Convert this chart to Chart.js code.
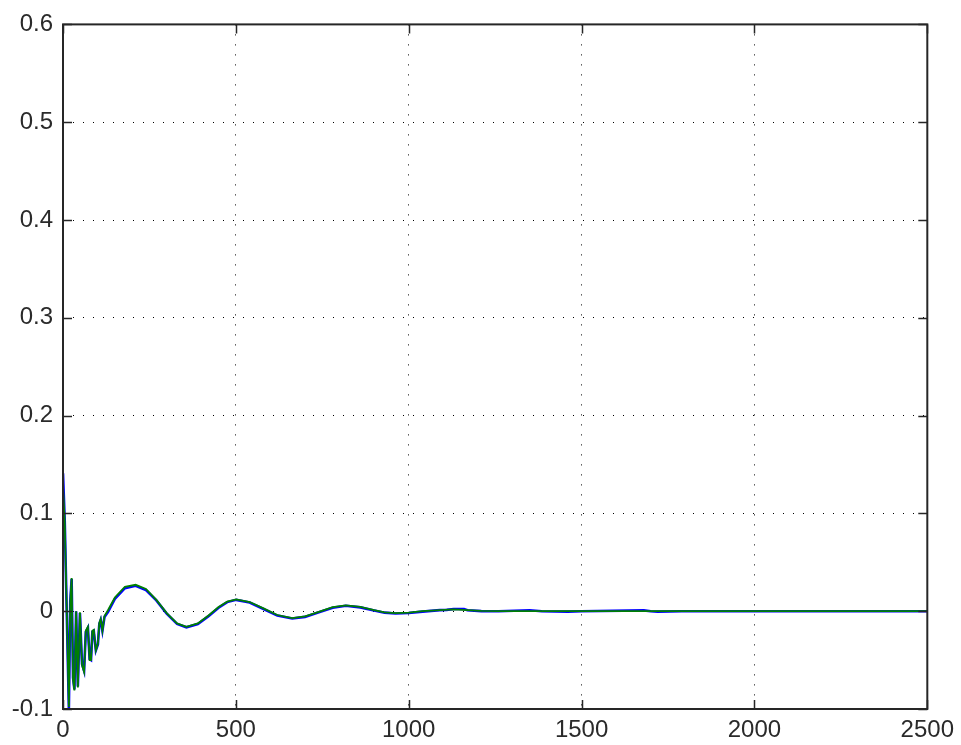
<!DOCTYPE html>
<html>
<head>
<meta charset="utf-8">
<script src="https://cdn.jsdelivr.net/npm/chart.js@4/dist/chart.umd.min.js"></script>
<style>
  html, body { margin: 0; padding: 0; background: #fff; }
  #wrap { width: 961px; height: 745px; }
</style>
</head>
<body>
<div id="wrap"><canvas id="plot"></canvas></div>
<script>

// TICKS

const xTicks = [0, 500, 1000, 1500, 2000, 2500];
const yTicks = [-0.1, 0, 0.1, 0.2, 0.3, 0.4, 0.5, 0.6];

// GREEN SIGNAL

const greenX = [0, 5, 17, 21, 25, 29, 33, 38, 43, 49, 55, 61, 66, 72, 77, 81, 85, 89, 95, 101, 105, 109, 114, 120, 130, 150, 179,
    210, 240, 270, 300, 330, 357, 390, 420, 450, 475, 501, 540, 580, 620, 663, 700, 740, 780, 818, 860, 900, 930, 962,
    1000, 1040, 1090, 1130, 1170, 1210, 1260, 2500];
const greenY = [0.128, 0.092, -0.098, 0.01, 0.034, -0.07, -0.081, 0.0, -0.078, -0.001, -0.055, -0.062, -0.02, -0.016, -0.05, -0.05, -0.02, -0.019, -0.04, -0.033, -0.012, -0.008, -0.02, -0.005, 0.001, 0.014, 0.025,
    0.027, 0.0227, 0.0116, -0.0019, -0.0125, -0.016, -0.0125, -0.0047, 0.0042, 0.0098, 0.012, 0.0094, 0.0029, -0.0039, -0.007, -0.0053, -0.0006, 0.0042, 0.006, 0.0044, 0.0011, -0.0011, -0.002,
    -0.0015, 0.0, 0.0012, 0.0018, 0.0012, 0.0004, 0, 0];

// BLUE SIGNAL

const blueX = [0, 5, 17, 21, 25, 29, 33, 38, 43, 49, 55, 61, 66, 72, 77, 81, 85, 89, 95, 101, 105, 109, 114, 120, 130, 150, 179,
    210, 240, 270, 300, 330, 357, 390, 420, 450, 475, 501, 540, 580, 620, 663, 700, 740, 780, 818, 860, 900, 930, 962,
    1000, 1040, 1090, 1110, 1130, 1160, 1170, 1210, 1260, 1350, 1385, 1460, 1500, 1680, 1700, 1720, 1790, 2500];
const blueY = [0.141, 0.093, -0.1, 0.01, 0.033, -0.068, -0.08, 0.0, -0.077, -0.002, -0.054, -0.061, -0.021, -0.017, -0.049, -0.05, -0.021, -0.02, -0.04, -0.034, -0.013, -0.009, -0.02, -0.006, -0.001, 0.0125, 0.0235,
    0.026, 0.0215, 0.011, -0.0025, -0.013, -0.0165, -0.0132, -0.0053, 0.0036, 0.0093, 0.0116, 0.0088, 0.0023, -0.0045, -0.0075, -0.0058, -0.001, 0.0036, 0.0056, 0.0039, 0.0007, -0.0015, -0.0024,
    -0.0018, -0.0004, 0.0011, 0.0014, 0.0022, 0.0022, 0.0009, 0.0001, 0, 0.0009, 0, -0.0004, 0, 0.0008, 0, -0.0004, 0, 0];

function toPoints(xs, ys){

    return xs.map((x, i) => ({ x: x, y: ys[i] }));
}

// FRAME + INWARD TICKS

const framePlugin = {

    id: "frame",

    afterDraw(chart){

        let ctx = chart.ctx;
        let a = chart.chartArea;
        let xs = chart.scales.x;
        let ys = chart.scales.y;
        let len = 9;

        ctx.save();
        ctx.strokeStyle = "#262626";
        ctx.lineWidth = 1.5;

        ctx.beginPath();

        xTicks.forEach(v => {
            let px = Math.round(xs.getPixelForValue(v)) + 0.5;
            ctx.moveTo(px, a.bottom);
            ctx.lineTo(px, a.bottom - len);
            ctx.moveTo(px, a.top);
            ctx.lineTo(px, a.top + len);
        });

        yTicks.forEach(v => {
            let py = Math.round(ys.getPixelForValue(v)) + 0.5;
            ctx.moveTo(a.left, py);
            ctx.lineTo(a.left + len, py);
            ctx.moveTo(a.right, py);
            ctx.lineTo(a.right - len, py);
        });

        ctx.stroke();

        ctx.lineWidth = 2;
        ctx.strokeRect(a.left, a.top, a.right - a.left, a.bottom - a.top);

        ctx.restore();
    }
};

const tickFont = {
    family: "'Liberation Sans', Arial, sans-serif",
    size: 24
};

new Chart(document.getElementById("plot"), {

    type: "line",

    data: {

        // first dataset is painted last, so green sits on top
        datasets: [
            {
                label: "green",
                data: toPoints(greenX, greenY),
                borderColor: "#008000",
                borderWidth: 1.8,
                tension: 0,
                pointRadius: 0,
                fill: false
            },
            {
                label: "blue",
                data: toPoints(blueX, blueY),
                borderColor: "#0000ff",
                borderWidth: 2.6,
                tension: 0,
                pointRadius: 0,
                fill: false
            }
        ]
    },

    options: {

        responsive: true,
        maintainAspectRatio: false,
        animation: false,

        layout: {
            padding: { top: 23, right: 30, left: 0, bottom: 0 }
        },

        plugins: {
            legend: { display: false },
            tooltip: { enabled: false }
        },

        scales: {

            x: {
                type: "linear",
                min: 0,
                max: 2500,
                afterBuildTicks(scale){
                    scale.ticks = xTicks.map(v => ({ value: v }));
                },
                afterFit(scale){
                    scale.height = 36;
                },
                ticks: {
                    color: "#2a2a2a",
                    font: tickFont,
                    padding: 7,
                    maxRotation: 0,
                    callback: v => String(v)
                },
                grid: {
                    color: "#000",
                    lineWidth: 1,
                    drawTicks: false
                },
                border: {
                    display: false,
                    dash: [1, 9]
                }
            },

            y: {
                type: "linear",
                min: -0.1,
                max: 0.6,
                afterBuildTicks(scale){
                    scale.ticks = yTicks.map(v => ({ value: v }));
                },
                afterFit(scale){
                    scale.width = 63;
                },
                ticks: {
                    color: "#2a2a2a",
                    font: tickFont,
                    padding: 10,
                    callback: v => String(v)
                },
                grid: {
                    color: "#000",
                    lineWidth: 1,
                    drawTicks: false
                },
                border: {
                    display: false,
                    dash: [1, 9]
                }
            }
        }
    },

    plugins: [framePlugin]
});
</script>
</body>
</html>
